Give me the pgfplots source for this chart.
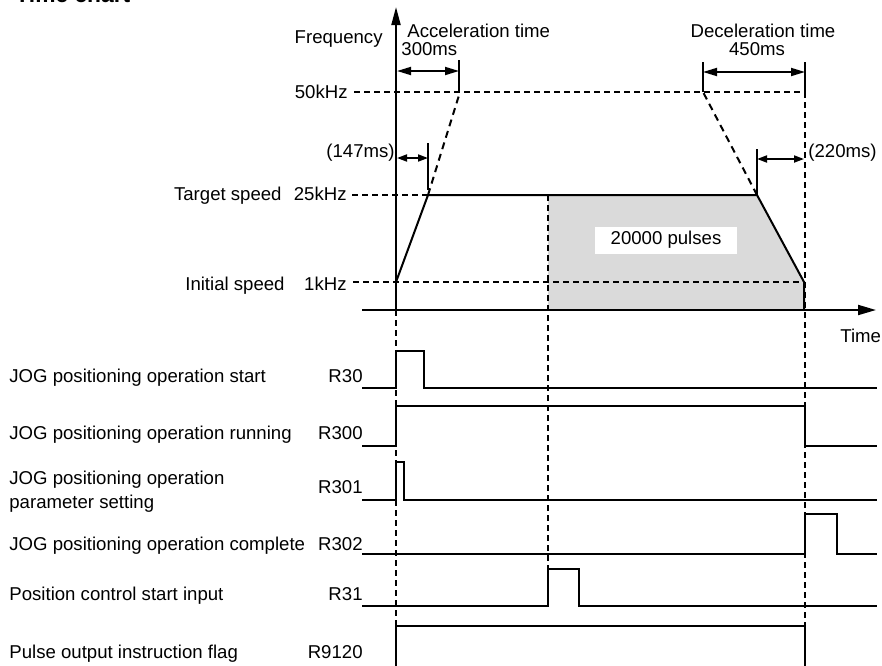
\documentclass[border=0pt]{standalone}
\usepackage{pgfplots}
\pgfplotsset{compat=1.18}
\usepackage{fontspec}
\setmainfont{Liberation Sans}
\usetikzlibrary{arrows.meta}
\definecolor{shade}{RGB}{218,218,218}
\pgfplotsset{
  sol/.style={black, line width=1pt, mark=none},
  dsh/.style={black, line width=0.6pt, dash pattern=on 3pt off 2pt, mark=none},
  dshb/.style={black, line width=1pt, dash pattern=on 3.5pt off 2.5pt, mark=none},
  sig/.style={black, line width=0.9pt, mark=none},
  dim/.style={black, line width=0.9pt, mark=none, arrows={Triangle[length=7pt,width=4pt]-Triangle[length=7pt,width=4pt]}},
  dims/.style={black, line width=0.9pt, mark=none, arrows={Triangle[length=5pt,width=3.5pt]-Triangle[length=5pt,width=3.5pt]}},
}
\begin{document}
\begin{tikzpicture}[font=\fontsize{9.3}{11}\selectfont]
\begin{axis}[x=0.5pt, y=0.5pt, xmin=0, xmax=882, ymin=0, ymax=665,
  y dir=reverse, hide axis, clip=true]
\coordinate (BL) at (axis cs:0,665);
\coordinate (TR) at (axis cs:882,0);
% shaded area (pulses)
\addplot[fill=shade, draw=none] coordinates {(548,195) (757,195) (804,282) (804,310) (548,310)};
% dashed guide lines
\addplot[dsh] coordinates {(354,92) (805,92)};
\addplot[dsh] coordinates {(352,195) (428,195)};
\addplot[dsh] coordinates {(353,282) (805,282)};
\addplot[dshb] coordinates {(428,195) (460,92)};
\addplot[dshb] coordinates {(757,195) (703,92)};
\addplot[dsh] coordinates {(396,310) (396,626)};
\addplot[dsh] coordinates {(548,195) (548,569)};
\addplot[dsh] coordinates {(805,92) (805,626)};
% speed profile
\addplot[sol] coordinates {(396,282) (428,195) (757,195) (804,282) (804,310)};
% axes
\addplot[sol, arrows={-Triangle[length=9pt,width=4.5pt]}] coordinates {(396,310) (396,7)};
\addplot[sol, arrows={-Triangle[length=9pt,width=5pt]}] coordinates {(362,310) (876,310)};
% dimension ticks
\addplot[sig] coordinates {(459,60) (459,92)};
\addplot[sig] coordinates {(703,62) (703,92)};
\addplot[sig] coordinates {(805,62) (805,92)};
\addplot[sig] coordinates {(428,143) (428,190)};
\addplot[sig] coordinates {(757,149) (757,195)};
% dimension arrows
\addplot[dim] coordinates {(397,71) (459,71)};
\addplot[dim] coordinates {(703,72) (805,72)};
\addplot[dims] coordinates {(397,158) (428,158)};
\addplot[dims] coordinates {(757,159) (804,159)};
% signals
\addplot[sig] coordinates {(362,388) (396,388) (396,351) (424,351) (424,388) (877,388)};
\addplot[sig] coordinates {(362,446) (396,446) (396,406) (805,406) (805,446) (877,446)};
\addplot[sig] coordinates {(362,500) (396,500) (396,462) (404,462) (404,500) (877,500)};
\addplot[sig] coordinates {(362,554) (805,554) (805,514) (837,514) (837,554) (877,554)};
\addplot[sig] coordinates {(362,606) (548,606) (548,569) (579,569) (579,606) (877,606)};
\addplot[sig] coordinates {(362,672) (396,672) (396,626) (805,626) (805,672) (877,672)};
% texts
\node[anchor=base west, inner sep=0, font=\fontsize{11.4}{13}\selectfont\bfseries] at (axis cs:15,2.5) {Time chart};
\node[anchor=base east, inner sep=0] at (axis cs:383,43) {Frequency};
\node[anchor=base west, inner sep=0] at (axis cs:407,37) {Acceleration time};
\node[anchor=base west, inner sep=0] at (axis cs:401,55) {300ms};
\node[anchor=base, inner sep=0] at (axis cs:763,37) {Deceleration time};
\node[anchor=base, inner sep=0] at (axis cs:757,55) {450ms};
\node[anchor=base east, inner sep=0] at (axis cs:348,98) {50kHz};
\node[anchor=base east, inner sep=0] at (axis cs:395,157) {(147ms)};
\node[anchor=base west, inner sep=0] at (axis cs:808,157) {(220ms)};
\node[anchor=base east, inner sep=0] at (axis cs:282,200) {Target speed};
\node[anchor=base east, inner sep=0] at (axis cs:347,200) {25kHz};
\node[anchor=base east, inner sep=0] at (axis cs:285,290) {Initial speed};
\node[anchor=base east, inner sep=0] at (axis cs:347,290) {1kHz};
\node[fill=white, inner sep=0, minimum width=71pt, minimum height=13.5pt] at (axis cs:666,240) {20000 pulses};
\node[anchor=base west, inner sep=0] at (axis cs:840,342) {Time};
% signal labels
\node[anchor=base west, inner sep=0] at (axis cs:9,382) {JOG positioning operation start};
\node[anchor=base east, inner sep=0] at (axis cs:363,382) {R30};
\node[anchor=base west, inner sep=0] at (axis cs:9,439) {JOG positioning operation running};
\node[anchor=base east, inner sep=0] at (axis cs:363,439) {R300};
\node[anchor=base west, inner sep=0] at (axis cs:9,484) {JOG positioning operation};
\node[anchor=base west, inner sep=0] at (axis cs:9,508) {parameter setting};
\node[anchor=base east, inner sep=0] at (axis cs:363,493) {R301};
\node[anchor=base west, inner sep=0] at (axis cs:9,550) {JOG positioning operation complete};
\node[anchor=base east, inner sep=0] at (axis cs:363,550) {R302};
\node[anchor=base west, inner sep=0] at (axis cs:9,600) {Position control start input};
\node[anchor=base east, inner sep=0] at (axis cs:363,600) {R31};
\node[anchor=base west, inner sep=0] at (axis cs:9,658) {Pulse output instruction flag};
\node[anchor=base east, inner sep=0] at (axis cs:363,658) {R9120};
\end{axis}
\pgfresetboundingbox
\path[use as bounding box] (BL) rectangle (TR);
\end{tikzpicture}
\end{document}
